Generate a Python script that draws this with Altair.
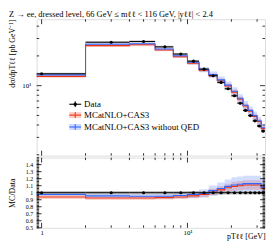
import altair as alt
import pandas as pd

# ---------------- data ----------------
centers = [1, 3, 5, 7, 9, 11, 13, 15, 17, 19, 21, 23, 25, 27, 29, 31, 33]
bin_lo = [0.5, 2, 4, 6, 8, 10, 12, 14, 16, 18, 20, 22, 24, 26, 28, 30, 32]
bin_hi = [2, 4, 6, 8, 10, 12, 14, 16, 18, 20, 22, 24, 26, 28, 30, 32, 34]
data_vals = [13.2, 27.5, 28.0, 24.7, 20.9, 17.7, 14.7, 12.6, 10.8, 9.3, 7.9,
             6.65, 5.62, 4.98, 4.41, 3.91, 3.47]
data_unc = [0.025] * 17
ratio_red = [0.94, 0.925, 0.925, 0.93, 0.94, 0.955, 0.975, 1.01, 1.04, 1.07,
             1.09, 1.10, 1.11, 1.11, 1.11, 1.11, 1.06]
ratio_blue = [0.975, 0.955, 0.95, 0.95, 0.96, 0.975, 0.99, 1.03, 1.06, 1.09,
              1.11, 1.12, 1.13, 1.13, 1.13, 1.13, 1.08]
unc_red = [0.03, 0.03, 0.03, 0.03, 0.03, 0.035, 0.04, 0.045, 0.05, 0.055,
           0.06, 0.06, 0.06, 0.06, 0.06, 0.06, 0.06]
unc_blue = [0.02, 0.03, 0.03, 0.035, 0.04, 0.05, 0.06, 0.07, 0.08, 0.09,
            0.1, 0.1, 0.1, 0.1, 0.1, 0.1, 0.1]

legend_labels = ["Data", "MCatNLO+CAS3", "MCatNLO+CAS3 without QED"]
title_text = "Z → ee, dressed level, 66 GeV ≤ mℓℓ < 116 GeV, |yℓℓ| < 2.4"

x_major = [1, 10]
x_minor = [2, 3, 4, 5, 6, 7, 8, 9, 20, 30]
y_major = [10]
y_minor = [2, 3, 4, 5, 6, 7, 8, 9, 20, 30, 40]
r_major = [0.5, 0.6, 0.7, 0.8, 0.9, 1.0, 1.1, 1.2, 1.3, 1.4]
r_minor = [round(0.5 + 0.02 * i, 2) for i in range(51)]

# ---------------- styling ----------------
RED = "#EE3311"
BLUE = "#3366FF"
FONT = "Liberation Serif"
W, H1, H2 = 231, 138, 71
X_DOMAIN = [0.925, 34]
Y_DOMAIN = [1.96, 47]
R_DOMAIN = [0.5, 1.5]

# ---------------- tables ----------------
n = len(centers)
rows = []
for i in range(n):
    d = data_vals[i]
    r, b = ratio_red[i], ratio_blue[i]
    rows.append(dict(
        lo=bin_lo[i], hi=bin_hi[i], c=centers[i],
        data=d, d_lo=d * (1 - data_unc[i]), d_hi=d * (1 + data_unc[i]),
        red=d * r, red_lo=d * r * (1 - unc_red[i]), red_hi=d * r * (1 + unc_red[i]),
        blue=d * b, blue_lo=d * b * (1 - unc_blue[i]), blue_hi=d * b * (1 + unc_blue[i]),
        one=1.0, one_lo=1 - data_unc[i], one_hi=1 + data_unc[i],
        r_red=r, r_red_lo=r * (1 - unc_red[i]), r_red_hi=r * (1 + unc_red[i]),
        r_blue=b, r_blue_lo=b * (1 - unc_blue[i]), r_blue_hi=b * (1 + unc_blue[i]),
    ))
df = pd.DataFrame(rows)
# step table: one row per lower edge + last upper edge
step = df.copy()
step["x"] = step["lo"]
last = step.iloc[[-1]].copy()
last["x"] = last["hi"]
step = pd.concat([step, last], ignore_index=True)

xs = alt.Scale(type="log", domain=X_DOMAIN, nice=False, zero=False)
ys = alt.Scale(type="log", domain=Y_DOMAIN, nice=False, zero=False)
rs = alt.Scale(type="linear", domain=R_DOMAIN, nice=False, zero=False)

top_axis = alt.Axis(values=y_major, labelExpr="'10¹'", ticks=False, domain=False,
                    grid=False, labelFont=FONT, labelFontSize=7, labelPadding=6,
                    title="dσ/dpTℓℓ [pb GeV⁻¹]", titleFont=FONT, titleFontSize=8,
                    titleFontWeight="normal", titleX=-20, titleY=0,
                    titleAlign="right", titleAngle=-90)
rat_axis = alt.Axis(values=r_major, ticks=False, domain=False, grid=False,
                    labelFont=FONT, labelFontSize=6, labelPadding=4,
                    labelOverlap=False, labelExpr="datum.value == 1 ? '1' : format(datum.value, '.1f')",
                    title="MC/Data", titleFont=FONT, titleFontSize=8,
                    titleFontWeight="normal", titleX=-20, titleAngle=-90)
x_axis = alt.Axis(values=x_major, labelExpr="datum.value == 1 ? '1' : '10¹'",
                  ticks=False, domain=False, grid=False, labelFont=FONT,
                  labelFontSize=7, labelPadding=1, labelFlush=False,
                  title="pTℓℓ [GeV]", titleFont=FONT, titleFontSize=8,
                  titleFontWeight="normal", titleAnchor="end", titlePadding=-3)


def panel_layers(yscale, axis, ycols, xaxis):
    X = lambda f: alt.X(f, scale=xs, axis=xaxis)
    Y = lambda f: alt.Y(f, scale=yscale, axis=axis)
    dl, dh, dv, rl, rh, rv, bl, bh, bv = ycols
    base = alt.Chart(df)
    stp = alt.Chart(step)
    layers = [
        stp.mark_area(interpolate="step-after", color=RED, opacity=0.22, clip=True)
        .encode(x=X("x:Q"), y=Y(f"{rl}:Q"), y2=f"{rh}:Q"),
        stp.mark_area(interpolate="step-after", color=BLUE, opacity=0.22, clip=True)
        .encode(x=X("x:Q"), y=Y(f"{bl}:Q"), y2=f"{bh}:Q"),
        base.mark_rect(color="#888888", opacity=0.5, clip=True)
        .encode(x=X("lo:Q"), x2="hi:Q", y=Y(f"{dl}:Q"), y2=f"{dh}:Q"),
        stp.mark_line(interpolate="step-after", color=RED, strokeWidth=1.1, clip=True)
        .encode(x=X("x:Q"), y=Y(f"{rv}:Q")),
        stp.mark_line(interpolate="step-after", color=BLUE, strokeWidth=1.1, clip=True)
        .encode(x=X("x:Q"), y=Y(f"{bv}:Q")),
        base.mark_rule(color="black", strokeWidth=1.0, clip=True)
        .encode(x=X("lo:Q"), x2="hi:Q", y=Y(f"{dv}:Q")),
        base.mark_point(filled=True, color="black", size=10, opacity=1, clip=True)
        .encode(x=X("c:Q"), y=Y(f"{dv}:Q")),
    ]
    return layers


def tick_layers(yscale, axis, height, ymaj, ymin, xaxis):
    out = []
    for vals, L in ((x_major, 5), (x_minor, 2.5)):
        t = alt.Chart(pd.DataFrame({"t": vals}))
        out.append(t.mark_rule(color="black", strokeWidth=0.8).encode(
            x=alt.X("t:Q", scale=xs, axis=xaxis), y=alt.value(height), y2=alt.value(height - L)))
        out.append(t.mark_rule(color="black", strokeWidth=0.8).encode(
            x=alt.X("t:Q", scale=xs, axis=xaxis), y=alt.value(0), y2=alt.value(L)))
    for vals, L in ((ymaj, 5), (ymin, 2.5)):
        t = alt.Chart(pd.DataFrame({"t": vals}))
        out.append(t.mark_rule(color="black", strokeWidth=0.8).encode(
            y=alt.Y("t:Q", scale=yscale, axis=axis), x=alt.value(0), x2=alt.value(L)))
        out.append(t.mark_rule(color="black", strokeWidth=0.8).encode(
            y=alt.Y("t:Q", scale=yscale, axis=axis), x=alt.value(W), x2=alt.value(W - L)))
    return out


def legend_layers():
    out = []
    rows_y = [86, 97, 109]
    cols = ["black", RED, BLUE]
    for i, (lab, col, yy) in enumerate(zip(legend_labels, cols, rows_y)):
        src = alt.Chart(pd.DataFrame({"label": [lab]}))
        if i > 0:
            out.append(src.mark_rect(color=col, opacity=0.25).encode(
                x=alt.value(33), x2=alt.value(45), y=alt.value(yy - 3), y2=alt.value(yy + 3)))
        out.append(src.mark_rule(color=col, strokeWidth=1.1).encode(
            x=alt.value(33), x2=alt.value(45), y=alt.value(yy)))
        out.append(src.mark_rule(color=col, strokeWidth=1).encode(
            x=alt.value(39), y=alt.value(yy - 3), y2=alt.value(yy + 3)))
        if i == 0:
            out.append(src.mark_point(filled=True, color="black", size=12, opacity=1).encode(
                x=alt.value(39), y=alt.value(yy)))
        out.append(src.mark_text(align="left", baseline="middle", font=FONT,
                                 fontSize=9, color="black").encode(
            x=alt.value(48), y=alt.value(yy), text="label:N"))
    return out


top = alt.layer(
    *panel_layers(ys, top_axis,
                  ["d_lo", "d_hi", "data", "red_lo", "red_hi", "red",
                   "blue_lo", "blue_hi", "blue"], None),
    *tick_layers(ys, top_axis, H1, y_major, y_minor, None),
    *legend_layers(),
).properties(
    width=W, height=H1,
    title=alt.TitleParams(title_text, anchor="start", font=FONT, fontSize=8.5,
                          fontWeight="normal", offset=0),
)

bottom = alt.layer(
    *panel_layers(rs, rat_axis,
                  ["one_lo", "one_hi", "one", "r_red_lo", "r_red_hi", "r_red",
                   "r_blue_lo", "r_blue_hi", "r_blue"], x_axis),
    *tick_layers(rs, rat_axis, H2, r_major, r_minor, x_axis),
).properties(width=W, height=H2)

chart = alt.vconcat(top, bottom, spacing=0).configure_view(
    stroke="black", strokeWidth=1
).configure(background="white", padding=0)

chart.save("out.html", embed_options={"renderer": "svg", "actions": False})
